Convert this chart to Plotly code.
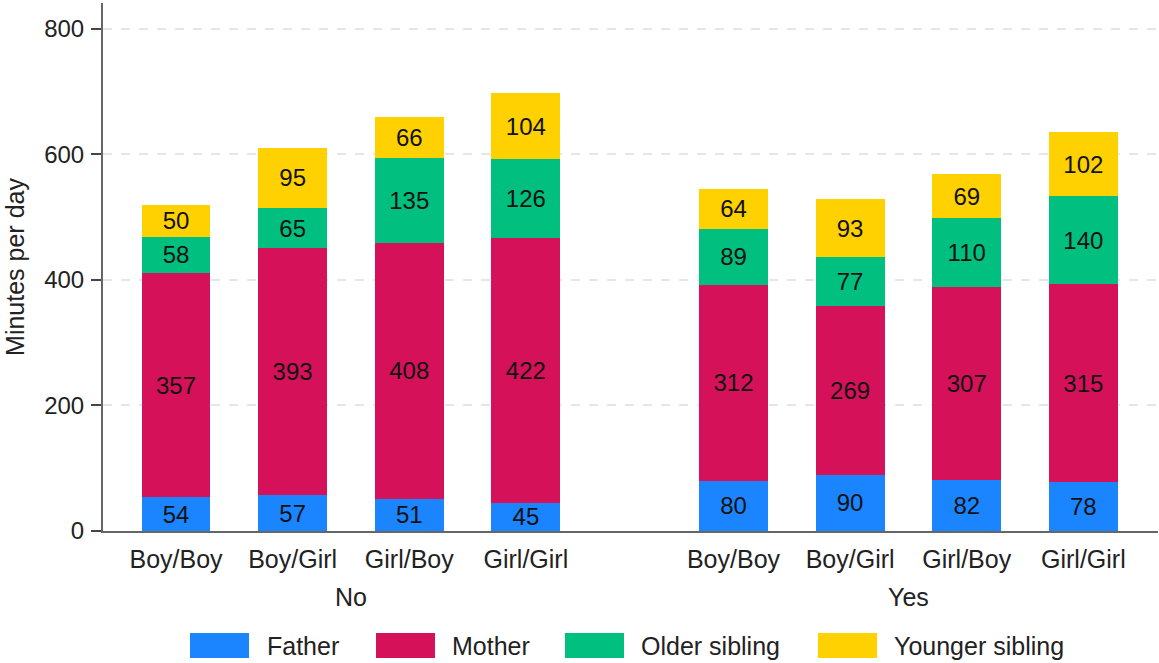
import plotly.graph_objects as go

# ---- data ----
groups = ["No", "Yes"]
categories = ["Boy/Boy", "Boy/Girl", "Girl/Boy", "Girl/Girl"]
series_names = ["Father", "Mother", "Older sibling", "Younger sibling"]

father_no = [54, 57, 51, 45]
mother_no = [357, 393, 408, 422]
older_no = [58, 65, 135, 126]
younger_no = [50, 95, 66, 104]

father_yes = [80, 90, 82, 78]
mother_yes = [312, 269, 307, 315]
older_yes = [89, 77, 110, 140]
younger_yes = [64, 93, 69, 102]

y_ticks = [0, 200, 400, 600, 800]

# ---- styles ----
colors = ["#1a85ff", "#d41159", "#00bf7f", "#ffd100"]
FONT = "Liberation Sans, Arial, sans-serif"
FS = 25
FS_NUM = 24

W, H = 1159, 663
ML, MR, MT, MB = 103, 1, 3, 132
PW, PH = W - ML - MR, H - MT - MB

# positions (layout): second group offset by a gap
gap = 1.78
pos_no = [i for i in range(len(categories))]
pos_yes = [i + len(categories) - 1 + gap for i in range(len(categories))]
positions = pos_no + pos_yes
labels = categories + categories

series_vals = [
    father_no + father_yes,
    mother_no + mother_yes,
    older_no + older_yes,
    younger_no + younger_yes,
]

fig = go.Figure()
for name, vals, col in zip(series_names, series_vals, colors):
    fig.add_trace(go.Bar(
        x=positions, y=vals, name=name,
        marker=dict(color=col, line=dict(width=0)),
        width=0.59,
        text=vals, texttemplate="%{text}",
        textposition="inside", insidetextanchor="middle",
        textangle=0, constraintext="none",
        textfont=dict(family=FONT, size=FS_NUM, color="#111111"),
        showlegend=False,
    ))

fig.update_layout(
    barmode="stack",
    width=W, height=H,
    margin=dict(l=ML, r=MR, t=MT, b=MB, pad=0),
    paper_bgcolor="white", plot_bgcolor="white",
    font=dict(family=FONT, size=FS, color="#222222"),
    xaxis=dict(
        range=[-0.626, pos_yes[-1] + 0.64],
        tickvals=positions, ticktext=labels,
        showgrid=False, zeroline=False,
        showline=True, linecolor="#666666", linewidth=2,
        ticks="", ticklabelstandoff=5,
        tickfont=dict(family=FONT, size=FS, color="#222222"),
    ),
    yaxis=dict(
        range=[0, 841],
        tickvals=y_ticks,
        showgrid=True, gridcolor="#e6e6e6", griddash="dash", gridwidth=1.5,
        zeroline=False,
        showline=True, linecolor="#666666", linewidth=2,
        ticks="outside", ticklen=10, tickwidth=2, tickcolor="#444444",
        ticklabelstandoff=2,
        tickfont=dict(family=FONT, size=FS_NUM, color="#222222"),
        title=dict(text="Minutes per day", font=dict(family=FONT, size=FS, color="#222222"), standoff=12),
    ),
)

# group labels
for g, pos in zip(groups, [pos_no, pos_yes]):
    fig.add_annotation(
        x=(pos[0] + pos[-1]) / 2, xref="x",
        y=(MT + PH - 597) / PH, yref="paper",
        text=g, showarrow=False, yanchor="middle", xanchor="center",
        font=dict(family=FONT, size=FS, color="#222222"),
    )

# custom legend (pixel layout -> paper coords)
sw_left = [190, 376, 565, 818]
txt_left = [265, 450, 639, 892]
sw_w, sw_top, sw_bot = 59, 633, 658
def px(xp):
    return (xp - ML) / PW
def py(yp):
    return (MT + PH - yp) / PH
for name, col, sl, tl in zip(series_names, colors, sw_left, txt_left):
    fig.add_shape(type="rect", xref="paper", yref="paper",
                  x0=px(sl), x1=px(sl + sw_w), y0=py(sw_bot), y1=py(sw_top),
                  fillcolor=col, line=dict(width=0))
    fig.add_annotation(x=px(tl), y=py((sw_top + sw_bot) / 2), xref="paper", yref="paper",
                       text=name, showarrow=False, xanchor="left", yanchor="middle",
                       font=dict(family=FONT, size=FS, color="#222222"))

fig.write_html("out.html",
               config={"displayModeBar": False},
               post_script="document.body.style.margin='0';document.body.style.overflow='hidden';")
